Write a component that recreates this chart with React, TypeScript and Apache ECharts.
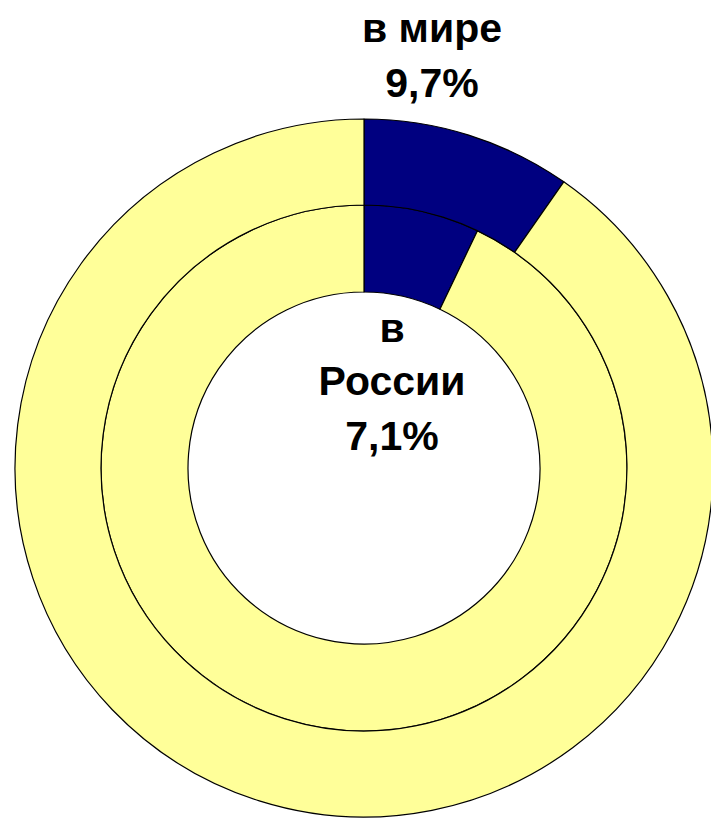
import React, { useEffect, useRef } from "react";
import * as echarts from "echarts";

const categories = ["share", "rest"];
const worldValues = [9.7, 90.3];
const russiaValues = [7.1, 92.9];
const worldLabel = ["в мире", "9,7%"];
const russiaLabel = ["в", "России", "7,1%"];
const colors = ["#000080", "#FFFF99"];

export default function App() {
  const ref = useRef<HTMLDivElement>(null);
  useEffect(() => {
    if (!ref.current) return;
    const chart = echarts.init(ref.current, null, { renderer: "svg" });
    const font = "'Liberation Sans', Arial, sans-serif";
    const mk = (vals: number[]) =>
      vals.map((v, i) => ({ name: categories[i], value: v, itemStyle: { color: colors[i] } }));
    const textEl = (t: string, x: number, y: number) => ({
      type: "text",
      x,
      y,
      silent: true,
      style: {
        text: t,
        fontFamily: font,
        fontWeight: "bold",
        fontSize: 41,
        fill: "#000",
        textAlign: "center",
        textVerticalAlign: "middle",
      },
    });
    const worldYs = [28, 83];
    const russiaYs = [328, 381, 436];
    chart.setOption({
      animation: false,
      backgroundColor: "#fff",
      series: [
        {
          type: "pie",
          silent: true,
          center: [364, 468],
          radius: [176, 263],
          startAngle: 90,
          clockwise: true,
          label: { show: false },
          labelLine: { show: false },
          itemStyle: { borderColor: "#000", borderWidth: 1.2 },
          emphasis: { disabled: true },
          data: mk(russiaValues),
        },
        {
          type: "pie",
          silent: true,
          center: [364, 468],
          radius: [263, 349],
          startAngle: 90,
          clockwise: true,
          label: { show: false },
          labelLine: { show: false },
          itemStyle: { borderColor: "#000", borderWidth: 1.2 },
          emphasis: { disabled: true },
          data: mk(worldValues),
        },
      ],
      graphic: [
        ...worldLabel.map((t, i) => textEl(t, 432, worldYs[i])),
        ...russiaLabel.map((t, i) => textEl(t, 392, russiaYs[i])),
      ],
    });
    return () => chart.dispose();
  }, []);
  return (
    <div
      ref={ref}
      style={{ position: "fixed", left: 0, top: 0, width: 711, height: 819 }}
    />
  );
}
